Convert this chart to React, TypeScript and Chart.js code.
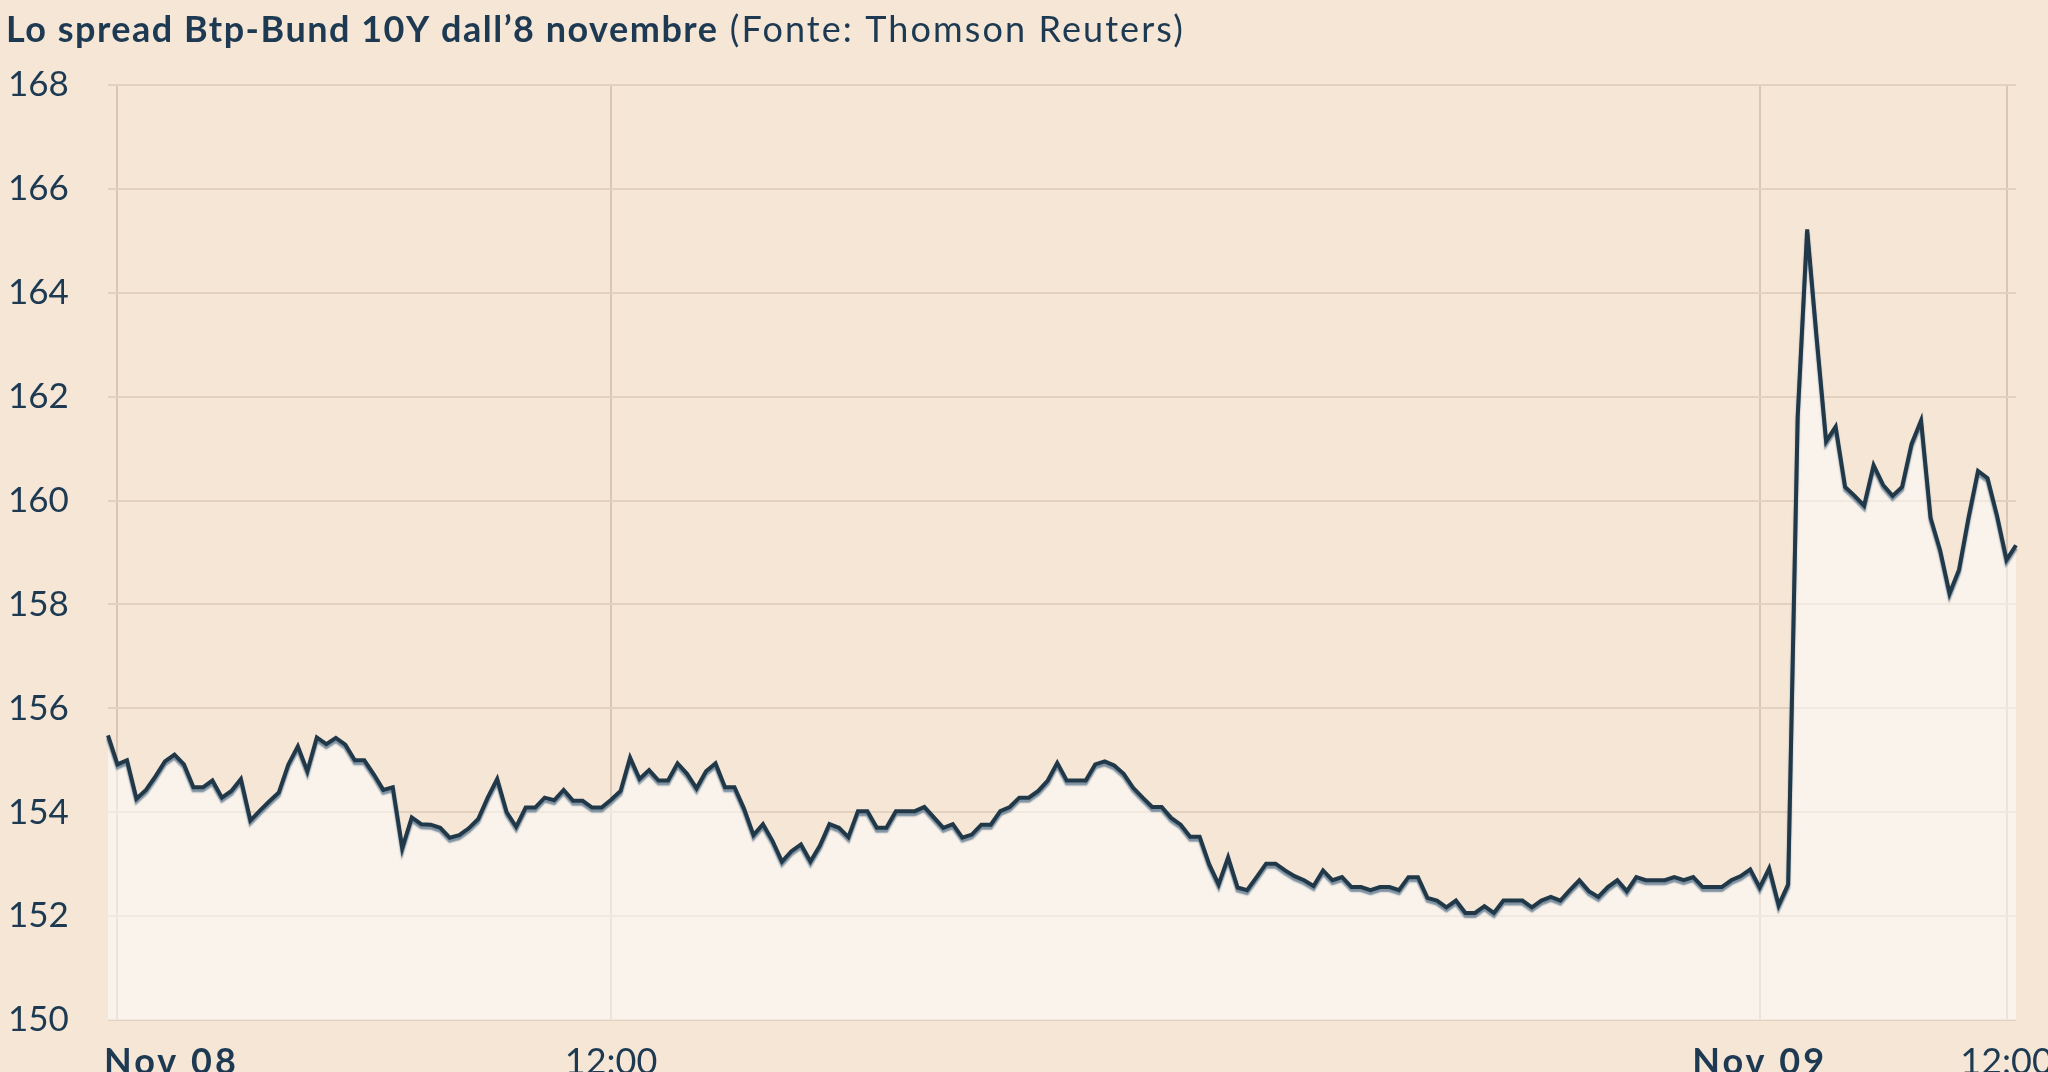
import React, { useEffect, useRef } from "react";
import { Chart, registerables } from "chart.js";

Chart.register(...registerables);

// Btp-Bund 10Y spread, one value per sample
const spread: number[] = [
  155.48, 154.92, 155.0, 154.26, 154.43, 154.69, 154.98, 155.11, 154.92, 154.48,
  154.48, 154.61, 154.28, 154.41, 154.64, 153.84, 154.03, 154.21, 154.38, 154.92,
  155.27, 154.79, 155.44, 155.31, 155.43, 155.3, 155.0, 155.0, 154.73, 154.43,
  154.48, 153.31, 153.9, 153.77, 153.76, 153.7,
  153.51, 153.56, 153.69, 153.87, 154.28, 154.64, 154.0, 153.72, 154.09, 154.09,
  154.28, 154.23, 154.43, 154.22, 154.22, 154.09, 154.09, 154.24, 154.41, 155.05,
  154.64, 154.81, 154.61, 154.61, 154.94, 154.74, 154.46, 154.79, 154.94, 154.48,
  154.48, 154.07, 153.56, 153.77, 153.45,
  153.05, 153.25, 153.38, 153.05, 153.36, 153.77, 153.7, 153.52, 154.02, 154.02,
  153.7, 153.7, 154.02, 154.02, 154.02, 154.1, 153.9, 153.7, 153.77, 153.51,
  153.57, 153.76, 153.76, 154.02, 154.1, 154.28, 154.28, 154.41, 154.61, 154.95,
  154.61, 154.61, 154.61, 154.92,
  154.98, 154.9, 154.74, 154.47, 154.28, 154.1, 154.1, 153.89, 153.76, 153.53,
  153.53, 153.0, 152.61, 153.13, 152.55, 152.5, 152.75, 153.01, 153.01, 152.88,
  152.77, 152.69, 152.58, 152.88, 152.69, 152.75, 152.56, 152.56, 152.5, 152.56,
  152.56, 152.5, 152.75, 152.75, 152.35,
  152.3, 152.17, 152.3, 152.06, 152.06, 152.19, 152.06, 152.3, 152.3, 152.3,
  152.17, 152.3, 152.37, 152.3, 152.5, 152.69, 152.48, 152.37, 152.56, 152.69,
  152.48, 152.75, 152.69, 152.69, 152.69, 152.75, 152.69, 152.75, 152.56, 152.56,
  152.56, 152.69, 152.77, 152.9, 152.55,
  152.92, 152.21, 152.61, 161.61, 165.22, 163.13, 161.14, 161.42, 160.26, 160.09,
  159.9, 160.68, 160.3, 160.09, 160.26, 161.09, 161.54, 159.67, 159.05, 158.21,
  158.67, 159.67, 160.57, 160.43, 159.71, 158.86, 159.14,
];

const sampleLabels: string[] = spread.map((_, i) => String(i));

const xTickIndex: number[] = [1, 53, 174, 200];
const xTickText: string[] = ["Nov 08", "12:00", "Nov 09", "12:00"];
const xTickBold: boolean[] = [true, false, true, false];

const yMin = 150;
const yMax = 168;
const yStep = 2;

const titleBold = "Lo spread Btp-Bund 10Y dall\u20198 novembre";
const titleRegular = " (Fonte: Thomson Reuters)";

const FONT = "Lato, 'Noto Sans', sans-serif";
const TEXT = "#1d3a52";
const BG = "#f5e6d6";

export default function App() {
  const ref = useRef<HTMLCanvasElement | null>(null);

  useEffect(() => {
    if (!ref.current) return;

    const titlePlugin = {
      id: "titleDraw",
      afterDraw(chart: any) {
        const ctx = chart.ctx;
        ctx.save();
        ctx.fillStyle = TEXT;
        ctx.textBaseline = "alphabetic";
        ctx.textAlign = "left";
        ctx.font = `700 36px ${FONT}`;
        (ctx as any).letterSpacing = "1.5px";
        ctx.fillText(titleBold, 6, 42);
        const w = ctx.measureText(titleBold).width;
        ctx.font = `400 36px ${FONT}`;
        (ctx as any).letterSpacing = "2.1px";
        ctx.fillText(titleRegular, 6 + w, 42);
        ctx.restore();
      },
    };

    const xLabelPlugin = {
      id: "xLabels",
      afterDraw(chart: any) {
        const ctx = chart.ctx;
        const scale = chart.scales.x;
        const area = chart.chartArea;
        ctx.save();
        ctx.fillStyle = TEXT;
        ctx.textBaseline = "middle";
        ctx.textAlign = "left";
        xTickIndex.forEach((idx, i) => {
          const bold = xTickBold[i];
          ctx.font = `${bold ? 700 : 400} 36px ${FONT}`;
          (ctx as any).letterSpacing = bold ? "3px" : "0px";
          const w = ctx.measureText(xTickText[i]).width;
          const px = scale.getPixelForValue(idx);
          let left = px - w / 2;
          if (left < area.left - 4) left = area.left - 4;
          ctx.fillText(xTickText[i], left, area.bottom + 42);
        });
        ctx.restore();
      },
    };

    const shadowPlugin = {
      id: "lineShadow",
      beforeDatasetDraw(chart: any) {
        const ctx = chart.ctx;
        ctx.save();
        ctx.shadowColor = "rgba(80,110,135,0.75)";
        ctx.shadowOffsetY = 3;
        ctx.shadowBlur = 1.5;
      },
      afterDatasetDraw(chart: any) {
        chart.ctx.restore();
      },
    };

    const chart = new Chart(ref.current, {
      type: "line",
      data: {
        labels: sampleLabels,
        datasets: [
          {
            data: spread,
            borderColor: "#213849",
            borderWidth: 4,
            backgroundColor: "rgba(255,255,255,0.5)",
            fill: "start",
            pointRadius: 0,
            tension: 0,
          },
        ],
      },
      options: {
        animation: false,
        responsive: true,
        maintainAspectRatio: false,
        layout: { padding: { top: 85, left: 8, right: 32, bottom: 0 } },
        plugins: {
          legend: { display: false },
          tooltip: { enabled: false },
          title: { display: false },
        },
        scales: {
          x: {
            type: "category",
            offset: false,
            afterBuildTicks: (scale: any) => {
              scale.ticks = xTickIndex.map((v) => ({ value: v }));
            },
            afterFit: (scale: any) => {
              scale.height = 52;
              scale.paddingLeft = 0;
              scale.paddingRight = 0;
            },
            grid: {
              color: "#d9c6b4",
              lineWidth: 2,
              drawTicks: false,
            },
            border: { display: false },
            ticks: {
              display: false,
              autoSkip: false,
              maxRotation: 0,
            },
          },
          y: {
            min: yMin,
            max: yMax,
            afterFit: (scale: any) => {
              scale.width = 100;
              scale.paddingTop = 0;
              scale.paddingBottom = 0;
            },
            grid: {
              color: "#e3d1c0",
              lineWidth: 2,
              drawTicks: false,
            },
            border: { display: false },
            ticks: {
              stepSize: yStep,
              crossAlign: "far",
              padding: 0,
              color: TEXT,
              font: { family: FONT, size: 35 },
            },
          },
        },
      },
      plugins: [titlePlugin, xLabelPlugin, shadowPlugin],
    });

    return () => chart.destroy();
  }, []);

  return (
    <div
      style={{
        position: "fixed",
        left: 0,
        top: 0,
        width: 2048,
        height: 1072,
        background: BG,
      }}
    >
      <canvas ref={ref} />
    </div>
  );
}
